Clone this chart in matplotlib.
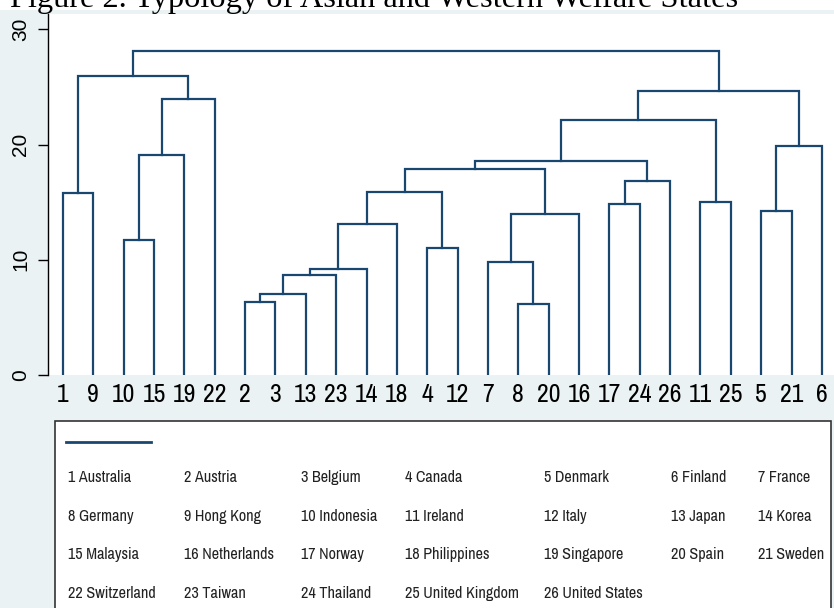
import matplotlib
matplotlib.use("Agg")
import matplotlib.pyplot as plt
from matplotlib import font_manager
from matplotlib.patches import Rectangle
from matplotlib.lines import Line2D

# country key
countries = ["Australia", "Austria", "Belgium", "Canada", "Denmark", "Finland", "France",
             "Germany", "Hong Kong", "Indonesia", "Ireland", "Italy", "Japan", "Korea",
             "Malaysia", "Netherlands", "Norway", "Philippines", "Singapore", "Spain", "Sweden",
             "Switzerland", "Taiwan", "Thailand", "United Kingdom", "United States"]

# cluster merges (leaves are country numbers, clusters are letters)
node_name = ["A", "B", "C", "D", "E", "F", "G", "H", "I", "J", "K", "L", "M",
             "N", "O", "P", "Q", "R", "S", "T", "U", "V", "W", "X", "Y"]
left_child = [1, 10, "B", "C", "A", 2, "F", "G", "H", "I", 4, "J", 8,
              7, "N", "L", 17, "Q", "P", 11, "S", 5, "V", "U", "E"]
right_child = [9, 15, 19, 22, "D", 3, 13, 23, 14, 18, 12, "K", 20,
               "M", 16, "O", 24, 26, "R", 25, "T", 21, 6, "W", "X"]
merge_height = [15.8, 11.7, 19.1, 24.0, 26.0, 6.3, 7.05, 8.65, 9.2, 13.1, 11.05, 15.9, 6.2,
                9.8, 14.0, 17.85, 14.83, 16.85, 18.57, 15.02, 22.13, 14.24, 19.87, 24.68, 28.15]

navy = "#1a476f"
bg = "#eaf2f3"

# look for a narrow sans face, else shrink regular one
narrow = dict(family="Liberation Sans", stretch="normal")
scale = 0.84
for f in font_manager.fontManager.ttflist:
    if "Narrow" in f.name:
        narrow = dict(family=f.name, stretch="normal"); scale = 1.0
        break
else:
    for f in font_manager.fontManager.ttflist:
        if f.name == "DejaVu Sans" and f.stretch == "condensed":
            narrow = dict(family="DejaVu Sans", stretch="condensed"); scale = 0.86
            break

W, H = 834, 608
fig = plt.figure(figsize=(W / 100, H / 100), dpi=100, facecolor="white")

def px(x, y):
    return x / W, 1 - y / H

fig.patches.append(Rectangle((0, 0), 1, 1 - 10 / H, transform=fig.transFigure,
                             facecolor=bg, edgecolor="none", zorder=-10))

fig.text(*px(10, 7), "Figure 2. Typology of Asian and Western Welfare States",
         family="Liberation Serif", fontsize=23.3, va="baseline", ha="left", color="black")

ax = fig.add_axes([48 / W, 1 - 375 / H, 1 - 48 / W, (375 - 14) / H])
ax.set_facecolor("white")

children = {n: (l, r, h) for n, l, r, h in zip(node_name, left_child, right_child, merge_height)}

# leaf order from walking the tree
order = []
def walk(n):
    if n in children:
        walk(children[n][0])
        walk(children[n][1])
    else:
        order.append(n)
walk("Y")
xpos = {leaf: i + 1 for i, leaf in enumerate(order)}

def draw(n):
    if n not in children:
        return xpos[n], 0.0
    l, r, h = children[n]
    xl, hl = draw(l)
    xr, hr = draw(r)
    ax.plot([xl, xl, xr, xr], [hl, h, h, hr], color=navy, lw=1.6,
            solid_capstyle="projecting", solid_joinstyle="miter")
    return (xl + xr) / 2, h

draw("Y")

ax.set_xlim(0.506, 26.4)
ax.set_ylim(0, 31.34)
for s in ["top", "right", "bottom"]:
    ax.spines[s].set_visible(False)
ax.spines["left"].set_linewidth(1.0)

ax.set_xticks(range(1, len(order) + 1))
ax.set_xticklabels([str(o) for o in order], fontsize=18.5 * scale, **narrow)
ax.tick_params(axis="x", length=0, pad=6)
ax.set_yticks([0, 10, 20, 30])
ax.set_yticklabels(["0", "10", "20", "30"], family="Liberation Sans", fontsize=15,
                   rotation=90, va="center")
ax.tick_params(axis="y", length=7, width=1, pad=6)

# key box
fig.patches.append(Rectangle(px(55, 640), (831 - 55) / W, (640 - 421) / H,
                             transform=fig.transFigure, facecolor="white",
                             edgecolor="#333333", lw=1.2, zorder=1))
fig.lines.append(Line2D([66 / W, 151 / W], [1 - 441.5 / H] * 2, transform=fig.transFigure,
                        color=navy, lw=2, zorder=2))
col_x = [68, 184, 301, 405, 544, 671, 758]
row_y = [482, 521, 559, 598]
for i, name in enumerate(countries):
    r, c = divmod(i, 7)
    fig.text(*px(col_x[c], row_y[r]), f"{i + 1} {name}", fontsize=11.6 * scale,
             va="baseline", ha="left", color="#222222", zorder=2, **narrow)

fig.savefig("out.png", dpi=100, facecolor=fig.get_facecolor())
